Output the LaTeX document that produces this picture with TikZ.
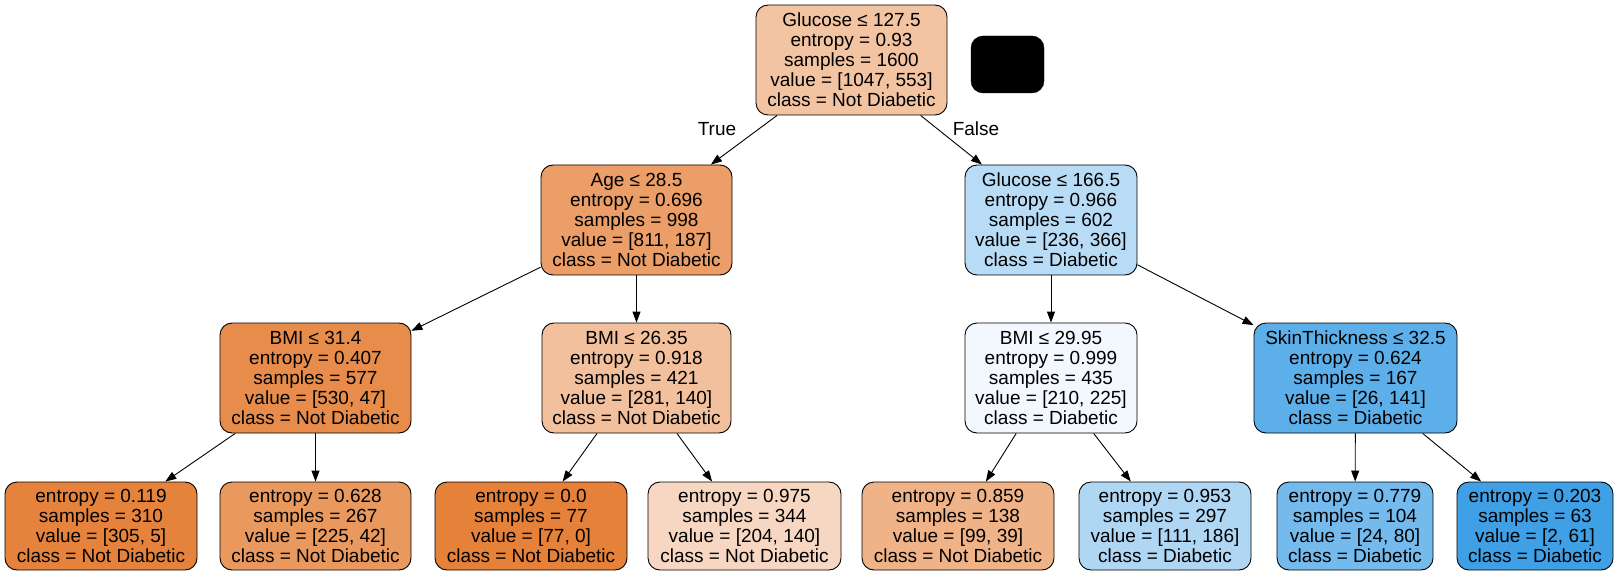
\documentclass[tikz,border=0pt]{standalone}
\usepackage{fontspec}
\setmainfont{Liberation Sans}
\usetikzlibrary{arrows.meta}
\definecolor{cRoot}{RGB}{243,196,162}
\definecolor{cAge}{RGB}{235,158,103}
\definecolor{cGlu}{RGB}{185,220,246}
\definecolor{cBmiA}{RGB}{231,140,75}
\definecolor{cBmiB}{RGB}{242,192,156}
\definecolor{cBmiC}{RGB}{242,248,253}
\definecolor{cSkin}{RGB}{93,175,234}
\definecolor{cLa}{RGB}{229,131,60}
\definecolor{cLb}{RGB}{234,153,94}
\definecolor{cLc}{RGB}{229,129,57}
\definecolor{cLd}{RGB}{247,215,193}
\definecolor{cLe}{RGB}{239,179,135}
\definecolor{cLf}{RGB}{175,215,244}
\definecolor{cLg}{RGB}{116,186,237}
\definecolor{cLh}{RGB}{64,160,230}
\tikzset{
  tnode/.style={draw=black, line width=0.9pt, rounded corners=12pt, align=center,
    inner sep=0pt, font=\fontsize{19}{20}\selectfont},
  inner5/.style={tnode, minimum height=110pt},
  leaf4/.style={tnode, minimum height=88pt},
  edge/.style={draw=black, line width=0.9pt, -{Triangle[length=11pt,width=8pt]}},
  elabel/.style={font=\fontsize{19}{20}\selectfont, inner sep=0pt}
}
\begin{document}
\begin{tikzpicture}[x=1pt,y=-1pt]
\useasboundingbox (0,0) rectangle (1619,577);
% internal nodes
\node[inner5, fill=cRoot, minimum width=191pt] (root) at (851.5,60) {Glucose ≤ 127.5\\entropy = 0.93\\samples = 1600\\value = [1047, 553]\\class = Not Diabetic};
\node[draw=black, fill=black, rounded corners=12pt, minimum width=73pt, minimum height=57pt, inner sep=0pt] (blk) at (1007.5,64.5) {};
\node[inner5, fill=cAge, minimum width=191pt] (age) at (636.5,220) {Age ≤ 28.5\\entropy = 0.696\\samples = 998\\value = [811, 187]\\class = Not Diabetic};
\node[inner5, fill=cGlu, minimum width=172pt] (glu) at (1051,220) {Glucose ≤ 166.5\\entropy = 0.966\\samples = 602\\value = [236, 366]\\class = Diabetic};
\node[inner5, fill=cBmiA, minimum width=191pt] (bmia) at (315.5,378) {BMI ≤ 31.4\\entropy = 0.407\\samples = 577\\value = [530, 47]\\class = Not Diabetic};
\node[inner5, fill=cBmiB, minimum width=189pt] (bmib) at (636.5,378) {BMI ≤ 26.35\\entropy = 0.918\\samples = 421\\value = [281, 140]\\class = Not Diabetic};
\node[inner5, fill=cBmiC, minimum width=172pt] (bmic) at (1051,378) {BMI ≤ 29.95\\entropy = 0.999\\samples = 435\\value = [210, 225]\\class = Diabetic};
\node[inner5, fill=cSkin, minimum width=203pt] (skin) at (1355.5,378) {SkinThickness ≤ 32.5\\entropy = 0.624\\samples = 167\\value = [26, 141]\\class = Diabetic};
% leaves
\node[leaf4, fill=cLa, minimum width=192pt] (la) at (101,526) {entropy = 0.119\\samples = 310\\value = [305, 5]\\class = Not Diabetic};
\node[leaf4, fill=cLb, minimum width=191pt] (lb) at (315.5,526) {entropy = 0.628\\samples = 267\\value = [225, 42]\\class = Not Diabetic};
\node[leaf4, fill=cLc, minimum width=192pt] (lc) at (531,526) {entropy = 0.0\\samples = 77\\value = [77, 0]\\class = Not Diabetic};
\node[leaf4, fill=cLd, minimum width=193pt] (ld) at (744.5,526) {entropy = 0.975\\samples = 344\\value = [204, 140]\\class = Not Diabetic};
\node[leaf4, fill=cLe, minimum width=192pt] (le) at (958,526) {entropy = 0.859\\samples = 138\\value = [99, 39]\\class = Not Diabetic};
\node[leaf4, fill=cLf, minimum width=172pt] (lf) at (1165,526) {entropy = 0.953\\samples = 297\\value = [111, 186]\\class = Diabetic};
\node[leaf4, fill=cLg, minimum width=156pt] (lg) at (1355,526) {entropy = 0.779\\samples = 104\\value = [24, 80]\\class = Diabetic};
\node[leaf4, fill=cLh, minimum width=156pt] (lh) at (1535,526) {entropy = 0.203\\samples = 63\\value = [2, 61]\\class = Diabetic};
% edges
\draw[edge] (root) -- (age);
\draw[edge] (root) -- (glu);
\draw[edge] (age) -- (bmia);
\draw[edge] (age) -- (bmib);
\draw[edge] (glu) -- (bmic);
\draw[edge] (glu) -- (skin);
\draw[edge] (bmia) -- (la);
\draw[edge] (bmia) -- (lb);
\draw[edge] (bmib) -- (lc);
\draw[edge] (bmib) -- (ld);
\draw[edge] (bmic) -- (le);
\draw[edge] (bmic) -- (lf);
\draw[edge] (skin) -- (lg);
\draw[edge] (skin) -- (lh);
% edge labels
\node[elabel] (ltrue) at (717,129) {True};
\node[elabel] (lfalse) at (976,129) {False};
\end{tikzpicture}
\end{document}
